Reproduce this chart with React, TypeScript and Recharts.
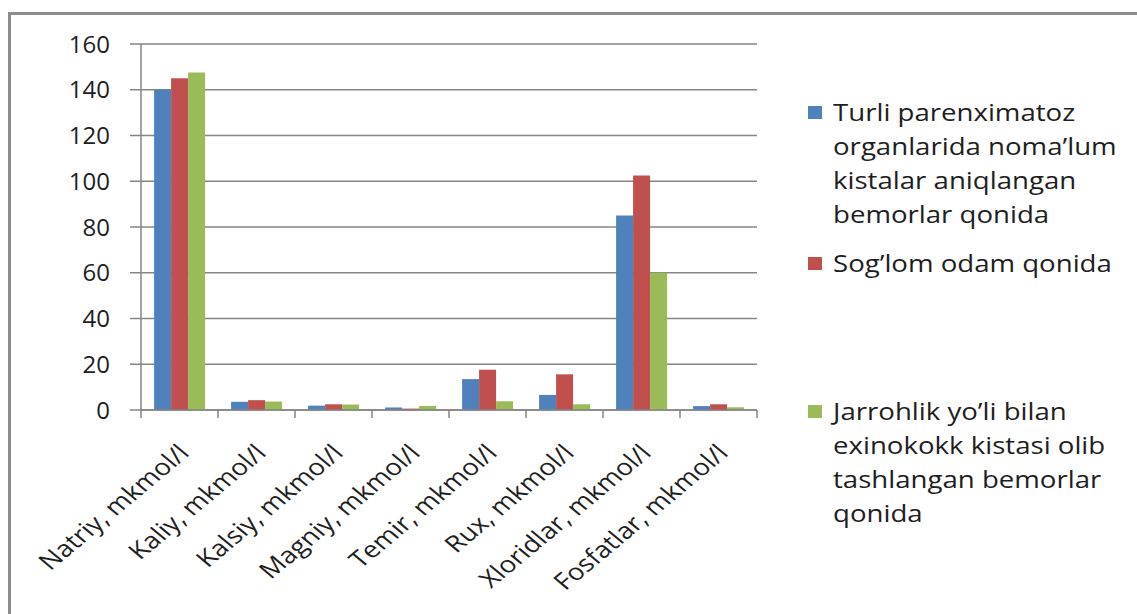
import { BarChart, Bar, XAxis, YAxis, CartesianGrid } from 'recharts';

const categories = [
  'Natriy, mkmol/l', 'Kaliy, mkmol/l', 'Kalsiy, mkmol/l', 'Magniy, mkmol/l',
  'Temir, mkmol/l', 'Rux, mkmol/l', 'Xloridlar, mkmol/l', 'Fosfatlar, mkmol/l',
];
const cystPatients = [140, 3.6, 1.9, 1.1, 13.5, 6.6, 85, 1.7];
const healthy = [145, 4.3, 2.5, 0.6, 17.6, 15.6, 102.5, 2.5];
const afterSurgery = [147.5, 3.7, 2.4, 1.8, 3.8, 2.5, 60, 1.2];
const yTicks = [0, 20, 40, 60, 80, 100, 120, 140, 160];

const seriesColors = ['#4F81BD', '#C0504D', '#9BBB59'];
const legendLines = [
  ['Turli parenximatoz', 'organlarida noma’lum', 'kistalar aniqlangan', 'bemorlar qonida'],
  ['Sog’lom odam qonida'],
  ['Jarrohlik yo’li bilan', 'exinokokk kistasi olib', 'tashlangan bemorlar', 'qonida'],
];

const data = categories.map((name, i) => ({
  name,
  a: cystPatients[i],
  b: healthy[i],
  c: afterSurgery[i],
}));

const FONT = '"Open Sans", sans-serif';
const AXIS = '#868686';
const BAND = 77;

// the source picture is stretched sideways, so labels are too
const CategoryTick = ({ x, y, payload, index }: any) => (
  <g>
    <line x1={x - BAND / 2} y1={y} x2={x - BAND / 2} y2={y + 8} stroke={AXIS} strokeWidth={1.5} />
    {index === categories.length - 1 && (
      <line x1={x + BAND / 2} y1={y} x2={x + BAND / 2} y2={y + 8} stroke={AXIS} strokeWidth={1.5} />
    )}
    <text
      transform={`translate(${x + 6}, ${y + 40}) scale(1.2, 1) rotate(-45)`}
      textAnchor="end"
      dominantBaseline="middle"
      fontSize={23}
      fontFamily={FONT}
      fill="#1e1e1e"
    >
      {payload.value}
    </text>
  </g>
);

const itemGaps = [0, 15, 114];

function LegendBox() {
  return (
    <div style={{ position: 'absolute', left: 808, top: 95, fontFamily: FONT, fontSize: 24, color: '#1e1e1e', lineHeight: '34px' }}>
      {legendLines.map((lines, i) => (
        <div key={i} style={{ display: 'flex', marginTop: itemGaps[i] }}>
          <div style={{ width: 14, height: 13, background: seriesColors[i], marginTop: 11, marginRight: 11, flexShrink: 0 }} />
          <div style={{ transform: 'scaleX(1.15)', transformOrigin: 'left center' }}>
            {lines.map(l => <div key={l} style={{ whiteSpace: 'nowrap' }}>{l}</div>)}
          </div>
        </div>
      ))}
    </div>
  );
}

export default function App() {
  return (
    <div style={{ position: 'absolute', left: 0, top: 0, width: 1137, height: 614, background: '#fff', overflow: 'hidden' }}>
      <div style={{ position: 'absolute', left: 8, top: 12, width: 1140, height: 620, borderLeft: '3px solid #8c8c8c', borderTop: '3px solid #8c8c8c' }} />
      <BarChart
        width={1137}
        height={614}
        data={data}
        margin={{ top: 44, right: 380, bottom: 54, left: 61 }}
        barCategoryGap="17%"
        barGap={0}
        style={{ position: 'absolute', left: 0, top: 0 }}
      >
        <CartesianGrid vertical={false} stroke={AXIS} strokeWidth={1.3} />
        <XAxis
          dataKey="name"
          interval={0}
          height={150}
          tickLine={false}
          tickSize={0}
          tickMargin={0}
          axisLine={{ stroke: AXIS, strokeWidth: 1.5 }}
          tick={<CategoryTick />}
        />
        <YAxis
          width={80}
          domain={[0, 160]}
          ticks={yTicks}
          tickSize={11}
          tickMargin={20}
          axisLine={{ stroke: AXIS, strokeWidth: 1.5 }}
          tickLine={{ stroke: AXIS, strokeWidth: 1.5 }}
          tick={{ fill: '#1e1e1e', fontSize: 24, fontFamily: FONT }}
        />
        <Bar dataKey="a" fill={seriesColors[0]} isAnimationActive={false} />
        <Bar dataKey="b" fill={seriesColors[1]} isAnimationActive={false} />
        <Bar dataKey="c" fill={seriesColors[2]} isAnimationActive={false} />
      </BarChart>
      <LegendBox />
    </div>
  );
}
